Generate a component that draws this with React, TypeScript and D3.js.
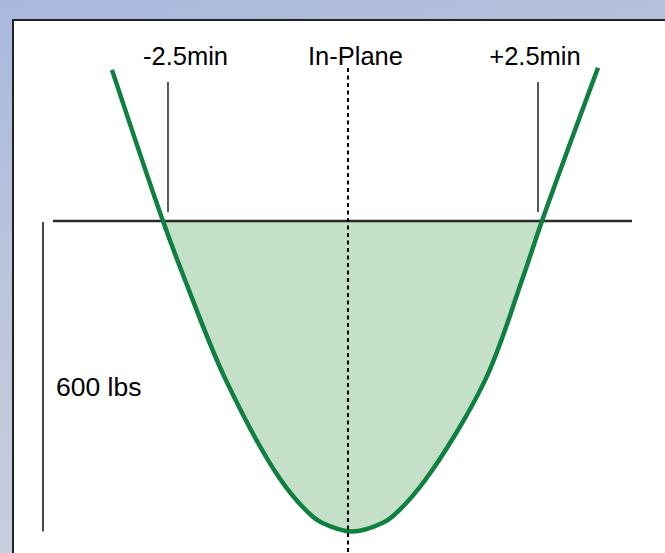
import React from "react";
import * as d3 from "d3";

// Curve (offset in minutes, load in lbs)
const curveMinutes = [-3.257, -2.568, -2.270, -1.716, -0.973, -0.554, -0.419, -0.014, 0.405, 0.541, 0.973, 1.784, 2.284, 2.554, 3.311];
const curveLbs = [892, 600, 486, 292, 99, 30, 17, 0, 17, 30, 99, 292, 486, 600, 896];
const tickValues = [-2.5, 2.5];
const tickLabels = ["-2.5min", "+2.5min"];
const centerValue = -0.068;
const centerLabel = "In-Plane";
const thresholdLbs = 600;
const thresholdLabel = "600 lbs";

const W = 665;
const H = 553;
const FONT = "'Liberation Sans', Arial, Helvetica, sans-serif";

export default function App() {
  const x = d3.scaleLinear().domain([-2.5, 2.5]).range([168, 538]);
  const y = d3.scaleLinear().domain([0, 600]).range([531.5, 221]);
  const pts = curveMinutes.map((m, i) => [m, curveLbs[i]] as [number, number]);
  const curve = d3.curveCatmullRom.alpha(0.5);
  const line = d3
    .line<[number, number]>()
    .x((d) => x(d[0]))
    .y((d) => y(d[1]))
    .curve(curve);
  const area = d3
    .area<[number, number]>()
    .x((d) => x(d[0]))
    .y0(y(thresholdLbs))
    .y1((d) => y(d[1]))
    .curve(curve);

  const yT = y(thresholdLbs);
  const labelDx = [17.5, -3];
  return (
    <svg
      width={W}
      height={H}
      style={{ position: "fixed", left: 0, top: 0, display: "block" }}
    >
      <defs>
        <linearGradient id="sky" x1="0" y1="0" x2="0.3" y2="1">
          <stop offset="0" stopColor="#a9b8dd" />
          <stop offset="0.5" stopColor="#bcc6dc" />
          <stop offset="1" stopColor="#c9cfdc" />
        </linearGradient>
        <clipPath id="below">
          <rect x={0} y={yT} width={W} height={H - yT} />
        </clipPath>
      </defs>
      <rect x={0} y={0} width={W} height={H} fill="url(#sky)" />
      <rect x={13} y={20} width={W} height={H} fill="#ffffff" stroke="#222" strokeWidth={2} />

      {/* fill region */}
      <path d={area(pts) || ""} fill="#c5e0c9" clipPath="url(#below)" />

      {/* threshold line */}
      <line x1={53} x2={632} y1={yT} y2={yT} stroke="#2a2a2a" strokeWidth={2.5} />

      {/* 600 lbs bracket */}
      <line x1={43} x2={43} y1={y(thresholdLbs) + 1} y2={y(0)} stroke="#4a4a4a" strokeWidth={2} />
      <text x={56} y={396} fontFamily={FONT} fontSize={26.5} fill="#000">
        {thresholdLabel}
      </text>

      {/* ticks */}
      {tickValues.map((v, i) => (
        <g key={i}>
          <line x1={x(v)} x2={x(v)} y1={82} y2={212} stroke="#000" strokeWidth={1.3} />
          <text
            x={x(v) + labelDx[i]}
            y={65}
            textAnchor="middle"
            fontFamily={FONT}
            fontSize={25.5}
            fill="#000"
          >
            {tickLabels[i]}
          </text>
        </g>
      ))}

      {/* curve */}
      <path d={line(pts) || ""} fill="none" stroke="#108040" strokeWidth={4.5} strokeLinejoin="round" />

      {/* center dashed line */}
      <line
        x1={x(centerValue)}
        x2={x(centerValue)}
        y1={68}
        y2={H}
        stroke="#000"
        strokeWidth={2}
        strokeDasharray="4 3.5"
      />
      <text
        x={x(centerValue) + 7.5}
        y={65}
        textAnchor="middle"
        fontFamily={FONT}
        fontSize={25.5}
        fill="#000"
      >
        {centerLabel}
      </text>
    </svg>
  );
}
